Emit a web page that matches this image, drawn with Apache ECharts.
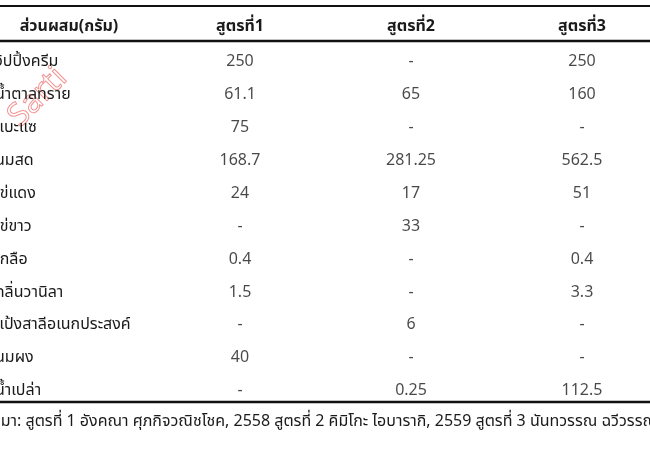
<!DOCTYPE html>
<html>
<head>
<meta charset="utf-8">
<script src="https://cdn.jsdelivr.net/npm/echarts@6/dist/echarts.min.js"></script>
<style>
  html, body { margin: 0; padding: 0; background: #fff; }
  #chart { width: 650px; height: 450px; }
</style>
</head>
<body>
<div id="chart"></div>
<script>
// ตารางส่วนผสม 3 สูตร
var headerName = 'ส่วนผสม(กรัม)';
var formulas = ['สูตรที่1', 'สูตรที่2', 'สูตรที่3'];
var ingredients = ['วิปปิ้งครีม', 'น้ำตาลทราย', 'แบะแซ', 'นมสด', 'ไข่แดง', 'ไข่ขาว',
                   'เกลือ', 'กลิ่นวานิลา', 'แป้งสาลีอเนกประสงค์', 'นมผง', 'น้ำเปล่า'];
// null = ไม่ใช้ (แสดงเป็น -)
var recipe1 = [250, 61.1, 75, 168.7, 24, null, 0.4, 1.5, null, 40, null];
var recipe2 = [null, 65, null, 281.25, 17, 33, null, null, 6, null, 0.25];
var recipe3 = [250, 160, null, 562.5, 51, null, 0.4, 3.3, null, null, 112.5];
var sourceNote = 'ที่มา: สูตรที่ 1 อังคณา ศุภกิจวณิชโชค, 2558 สูตรที่ 2 คิมิโกะ ไอบารากิ, 2559 สูตรที่ 3 นันทวรรณ ฉวีวรรณ';

var font = "'Noto Sans Thai', Tahoma, 'Noto Sans', sans-serif";
var ink = '#1a1a1a';

var myChart = echarts.init(document.getElementById('chart'));

// แปลงแต่ละคอลัมน์เป็นจุด [คอลัมน์, แถว, ค่า]
var cells = [];
[recipe1, recipe2, recipe3].forEach(function (col, c) {
    col.forEach(function (v, r) {
        cells.push([formulas[c], ingredients[r], v == null ? '-' : v]);
    });
});

var option = {
    backgroundColor: '#fff',
    textStyle: { fontFamily: font },
    grid: {
        left: 69,
        right: 68,
        top: 46.5,
        bottom: 41.5,
        outerBoundsMode: 'none',
        containLabel: false
    },
    xAxis: {
        type: 'category',
        position: 'top',
        boundaryGap: false,
        data: [headerName].concat(formulas),
        axisLine: { show: false },
        axisTick: { show: false },
        splitLine: { show: false },
        axisLabel: {
            margin: 11,
            fontSize: 16,
            fontWeight: 'bold',
            color: ink,
            fontFamily: font
        }
    },
    yAxis: {
        type: 'category',
        inverse: true,
        data: ingredients,
        axisLine: { show: false },
        axisTick: { show: false },
        splitLine: { show: false },
        axisLabel: {
            align: 'left',
            margin: 74,
            fontSize: 16,
            color: ink,
            fontFamily: font
        }
    },
    series: [
        {
            type: 'scatter',
            data: cells,
            symbolSize: 2,
            itemStyle: { color: 'rgba(0,0,0,0)' },
            silent: true,
            label: {
                show: true,
                position: 'inside',
                fontSize: 16,
                color: ink,
                fontFamily: font,
                formatter: function (p) {
                    return String(p.value[2]);
                }
            }
        }
    ],
    graphic: [
        // เส้นตาราง
        { type: 'line', shape: { x1: 0, y1: 6, x2: 650, y2: 6 }, style: { stroke: '#111', lineWidth: 2 } },
        { type: 'line', shape: { x1: 0, y1: 41, x2: 650, y2: 41 }, style: { stroke: '#111', lineWidth: 2.5 } },
        { type: 'line', shape: { x1: 0, y1: 402, x2: 650, y2: 402 }, style: { stroke: '#111', lineWidth: 2.5 } },
        // ลายน้ำ
        {
            type: 'text', x: 4, y: 112, rotation: Math.PI / 4,
            style: { text: 'Sarti', fontSize: 32, fill: 'none', stroke: 'rgba(230,40,40,0.5)', lineWidth: 1, fontFamily: font }
        },
        // หมายเหตุที่มา
        {
            type: 'text', x: -9, y: 423,
            style: { text: sourceNote, fontSize: 16, fill: ink, fontFamily: font, verticalAlign: 'middle' }
        }
    ]
};

myChart.setOption(option);
</script>
</body>
</html>
